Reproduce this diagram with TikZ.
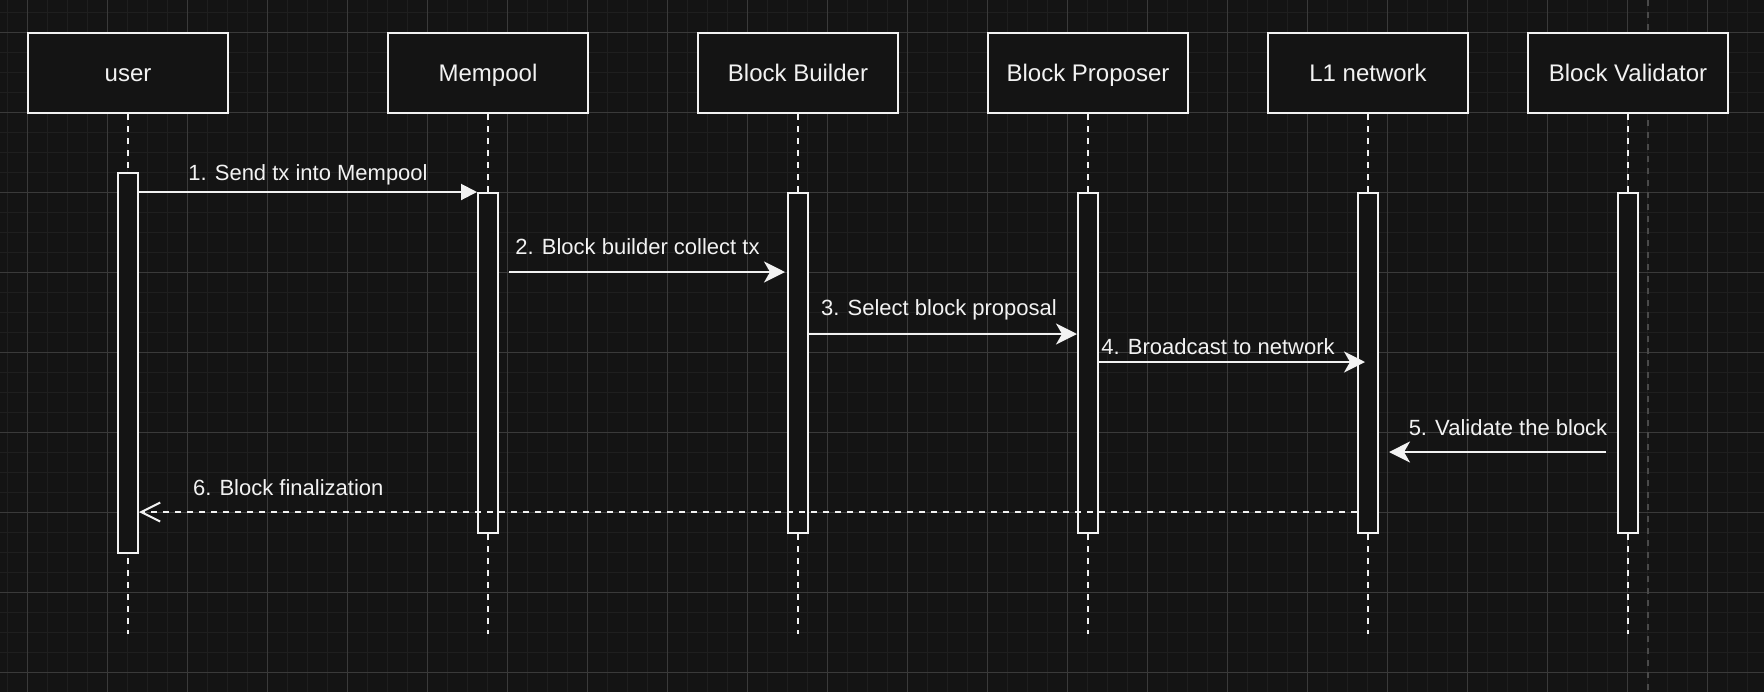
\documentclass[tikz,border=0pt]{standalone}
\usepackage{fontspec}
\setmainfont{Liberation Sans}
\usetikzlibrary{arrows.meta}
\definecolor{CanvasBg}{HTML}{141414}
\definecolor{GridMinor}{HTML}{1F1F1F}
\definecolor{GridMajor}{HTML}{3A3A3A}
\definecolor{PageBreak}{HTML}{4A4A4A}
\definecolor{InkWhite}{HTML}{F2F2F2}

\tikzset{
  actor/.style={draw=InkWhite,fill=CanvasBg,line width=1pt,minimum width=100pt,
    minimum height=40pt,inner sep=0pt,text=InkWhite,font=\fontsize{12}{14}\selectfont,
    text height=8.6pt,text depth=0pt},
  activation/.style={draw=InkWhite,fill=CanvasBg,line width=1pt,minimum width=10pt,inner sep=0pt},
  lifeline/.style={draw=InkWhite,line width=1pt,dash pattern=on 3pt off 3pt},
  msg/.style={draw=InkWhite,line width=1pt},
  classic/.style={-{Stealth[length=10.5pt,width=10.5pt,inset=3pt]}},
  msglabel/.style={text=InkWhite,font=\fontsize{11}{13}\selectfont,inner sep=0pt,anchor=base},
}

\begin{document}
\begin{tikzpicture}[x=1pt,y=-1pt]
  % canvas and grid
  \fill[CanvasBg] (0,0) rectangle (882,346);
  \useasboundingbox (0,0) rectangle (882,346);
  \foreach \gx in {3.7,13.7,...,880} \draw[GridMinor,line width=0.6pt] (\gx,0) -- (\gx,346);
  \foreach \gy in {6.2,16.2,...,345} \draw[GridMinor,line width=0.6pt] (0,\gy) -- (882,\gy);
  \foreach \gx in {13.7,53.7,...,880} \draw[GridMajor,line width=0.5pt] (\gx,0) -- (\gx,346);
  \foreach \gy in {16.2,56.2,...,345} \draw[GridMajor,line width=0.5pt] (0,\gy) -- (882,\gy);
  \draw[PageBreak,line width=0.8pt,dash pattern=on 3pt off 3pt] (824,0) -- (824,346);

  % participants
  \node[actor] (user) at (64,36.5) {user};
  \node[actor] (mempool) at (244,36.5) {Mempool};
  \node[actor] (builder) at (399,36.5) {Block Builder};
  \node[actor] (proposer) at (544,36.5) {Block Proposer};
  \node[actor] (lnet) at (684,36.5) {L1 network};
  \node[actor] (validator) at (814,36.5) {Block Validator};

  % lifelines
  \foreach \p in {user,mempool,builder,proposer,lnet,validator}
    \draw[lifeline] (\p.south) -- ++(0,260);

  % activations
  \node[activation,minimum height=190pt] (userAct) at (64,181.5) {};
  \node[activation,minimum height=170pt] (mempoolAct) at (244,181.5) {};
  \node[activation,minimum height=170pt] (builderAct) at (399,181.5) {};
  \node[activation,minimum height=170pt] (proposerAct) at (544,181.5) {};
  \node[activation,minimum height=170pt] (lnetAct) at (684,181.5) {};
  \node[activation,minimum height=170pt] (validatorAct) at (814,181.5) {};

  % messages
  \draw[msg,-{Triangle[length=8pt,width=8pt]}] (userAct.east |- mempoolAct.north) -- (mempoolAct.north west)
    node[msglabel,midway,yshift=5.7pt] {1. Send tx into Mempool};
  \draw[msg,classic] ([xshift=5pt,yshift=-40pt]mempoolAct.north east) -- ([xshift=-1pt,yshift=-40pt]builderAct.north west)
    node[msglabel,midway,xshift=-4.75pt,yshift=8.7pt] {2. Block builder collect tx};
  \draw[msg,classic] ([yshift=-71pt]builderAct.north east) -- ([yshift=-71pt]proposerAct.north west)
    node[msglabel,midway,xshift=-2pt,yshift=9.5pt] {3. Select block proposal};
  \draw[msg,classic] ([yshift=-85pt]proposerAct.north east) -- ([xshift=4pt,yshift=-85pt]lnetAct.north west)
    node[msglabel,midway,xshift=-7pt,yshift=3.9pt] {4. Broadcast to network};
  \draw[msg,classic] ([xshift=-5.5pt,yshift=-130pt]validatorAct.north west) -- ([xshift=5pt,yshift=-130pt]lnetAct.north east)
    node[msglabel,midway,xshift=5.25pt,yshift=8.5pt] {5. Validate the block};
  \coordinate (finStart) at ([yshift=-160pt]lnetAct.north west);
  \draw[msg,dash pattern=on 3pt off 3pt,-{Straight Barb[length=9.5pt,width=9.5pt]}]
    (finStart) -- (userAct.east |- finStart)
    node[msglabel,pos=0.8775,yshift=8.5pt] {6. Block finalization};
\end{tikzpicture}
\end{document}
